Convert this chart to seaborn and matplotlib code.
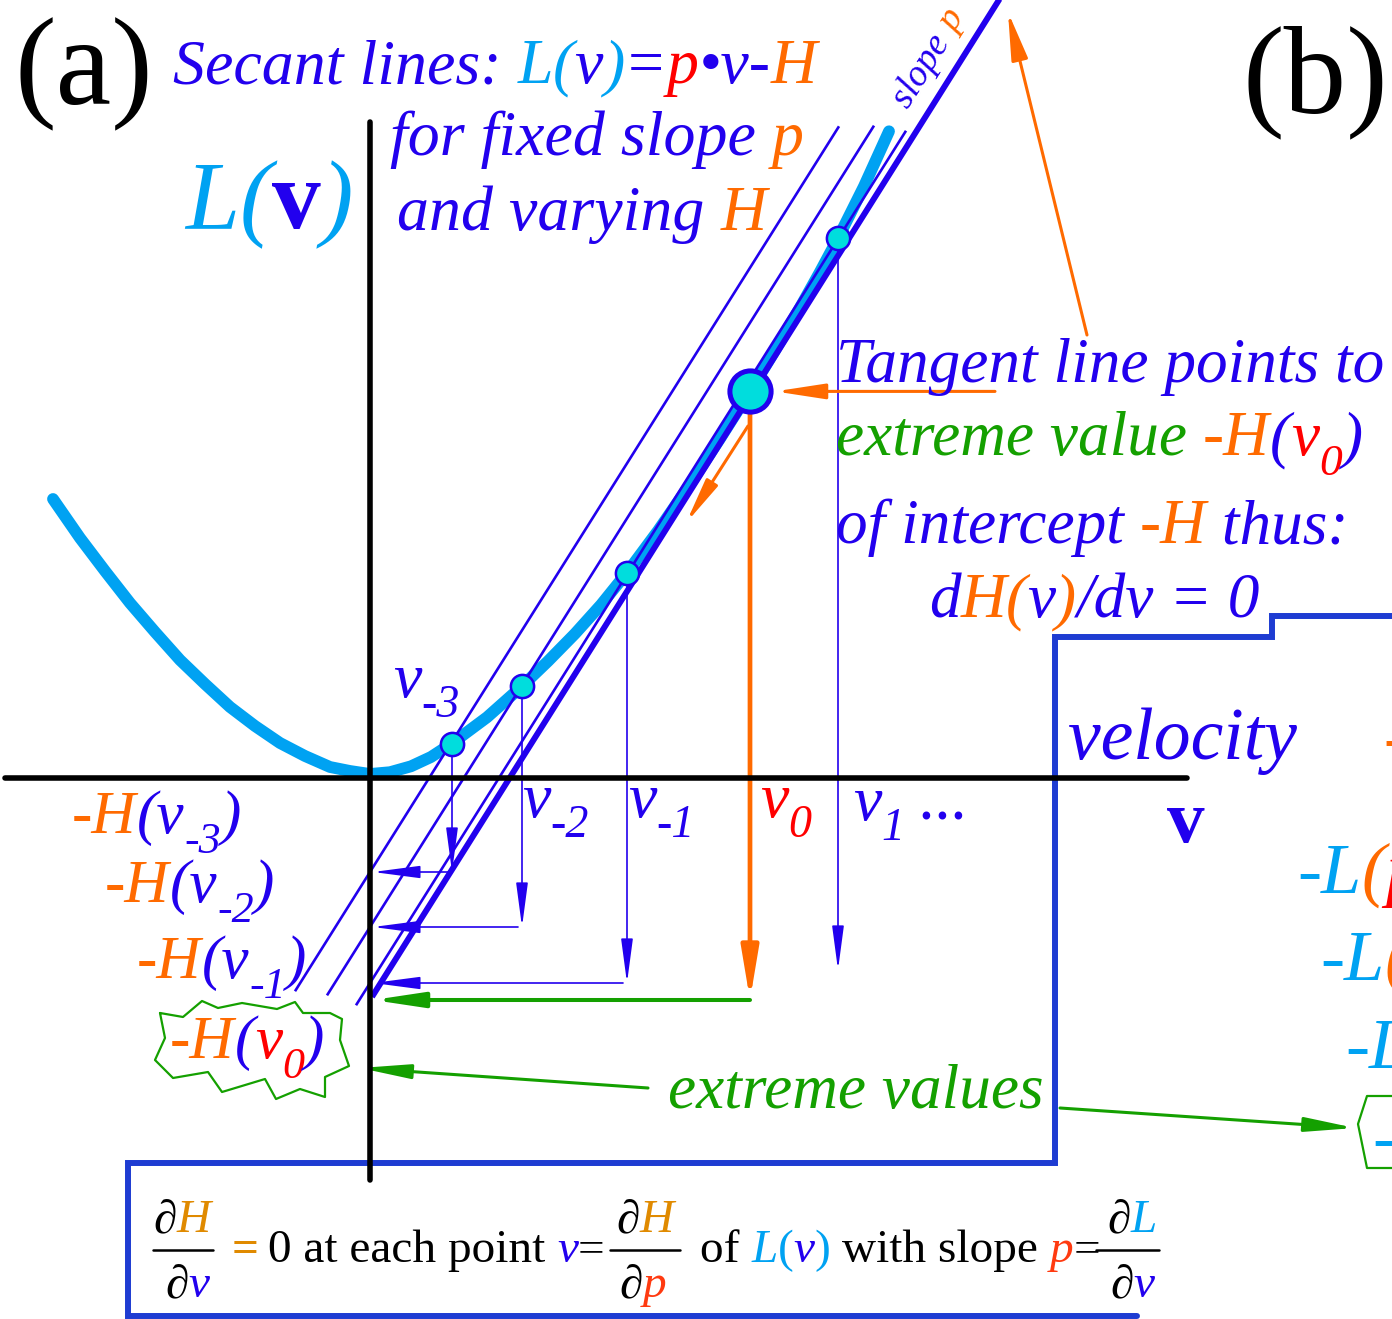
import matplotlib
matplotlib.use('Agg')
import matplotlib.pyplot as plt
import seaborn as sns

sns.set_theme(style='white')
plt.rcParams['font.family'] = ['Liberation Serif', 'DejaVu Serif']

W, H = 1392, 1319
BLUE = '#2200EE'
SKY = '#00A2F2'
ORANGE = '#FF6A00'
RED = '#FF0000'
GREEN = '#14A000'
CYAN = '#00DDDD'
BOX = '#1E3CD2'
HORANGE = '#E08A00'

# L(v) curve (v, L)
curve_v = [-3.17, -2.90, -2.65, -2.40, -2.15, -1.90, -1.65, -1.40, -1.15, -0.90,
           -0.65, -0.40, -0.20, 0.00, 0.20, 0.41, 0.61, 0.82, 1.17, 1.52,
           1.78, 2.05, 2.31, 2.57, 2.88, 3.20, 3.50, 3.80, 4.05, 4.30,
           4.50, 4.68, 4.94, 5.19]
curve_L = [2.79, 2.40, 2.07, 1.75, 1.46, 1.18, 0.94, 0.71, 0.52, 0.35,
           0.22, 0.11, 0.07, 0.04, 0.058, 0.117, 0.21, 0.347, 0.607, 0.918,
           1.168, 1.443, 1.732, 2.054, 2.472, 2.936, 3.394, 3.866, 4.275, 4.703,
           5.061, 5.397, 5.917, 6.467]

# marked points v-3, v-2, v-1, v0, v1
pts_v = [0.82, 1.52, 2.57, 3.80, 4.68]
pts_L = [0.34, 0.92, 2.05, 3.866, 5.40]

# lines of fixed slope p and intercept -H
slope_p = 1.59
neg_H = [-0.94, -1.49, -2.05, -2.22]
line_start = [-0.75, -0.43, -0.14, 0.02]
line_end = [4.69, 5.04, 5.36, 6.40]
drop_end = [-0.94, -1.49, -2.05, -2.22, -1.92]

fig = plt.figure(figsize=(W / 100, H / 100), dpi=100)
ax = fig.add_axes([0, 0, 1, 1])
ax.set_xlim(-3.70, 10.22)
ax.set_ylim(-5.41, 7.78)
ax.axis('off')


def px(x, y):
    # picture pixel -> data units
    return (x - 370) / 100, (778 - y) / 100


def arrow(p0, p1, color, lw, hl, hw, z=4):
    ax.annotate('', xy=p1, xytext=p0, zorder=z,
                arrowprops=dict(arrowstyle='-|>,head_length=%g,head_width=%g' % (hl, hw),
                                color=color, lw=lw, mutation_scale=1,
                                shrinkA=0, shrinkB=0))


# curve
sns.lineplot(x=curve_v, y=curve_L, sort=False, estimator=None, color=SKY,
             lw=8.5, ax=ax, legend=False, zorder=2, solid_joinstyle='round')

# secant lines and tangent
for i in range(4):
    vv = [line_start[i], line_end[i]]
    ax.plot(vv, [slope_p * v + neg_H[i] for v in vv], color=BLUE,
            lw=4.3 if i == 3 else 1.9, zorder=3, solid_capstyle='butt')

# axes
ax.plot([px(5, 0)[0], px(1187, 0)[0]], [0, 0], color='black', lw=4, zorder=5)
ax.plot([0, 0], [px(0, 122)[1], px(0, 1180)[1]], color='black', lw=4, zorder=5)

# drop arrows
for i in range(5):
    if i == 3:
        arrow((pts_v[i], pts_L[i]), (pts_v[i], drop_end[i]), ORANGE, 3.4, 31, 5.2)
    else:
        arrow((pts_v[i], pts_L[i]), (pts_v[i], drop_end[i]), BLUE, 1.2, 27, 3.6)
for i in range(3):
    arrow((pts_v[i] - 0.04, neg_H[i]), (0.03, neg_H[i]), BLUE, 1.2, 29, 3.8, z=6)
arrow((pts_v[3], neg_H[3]), (0.03, neg_H[3]), GREEN, 2.9, 30, 4.5, z=6)

# points
sns.scatterplot(x=pts_v[:3] + pts_v[4:], y=pts_L[:3] + pts_L[4:], s=280, color=CYAN,
                edgecolor=BLUE, linewidth=1.8, ax=ax, zorder=7, legend=False)
sns.scatterplot(x=[pts_v[3]], y=[pts_L[3]], s=880, color=CYAN, edgecolor=BLUE,
                linewidth=3.6, ax=ax, zorder=7, legend=False)

# orange pointers
arrow((6.25, pts_L[3]), (pts_v[3] + 0.25, pts_L[3]), ORANGE, 2.2, 30, 4.6)
arrow(px(748, 426), px(686, 523), ORANGE, 2.2, 27, 4.0)
arrow(px(1087, 335), px(1008, 12), ORANGE, 2.2, 29, 5.0)
# green pointers
arrow(px(648, 1088), px(360, 1068), GREEN, 2.2, 30, 4.3)
arrow(px(1060, 1108), px(1355, 1128), GREEN, 2.2, 30, 4.3)

# outline boxes
box = [(1137, 1316), (128, 1316), (128, 1163), (1055, 1163), (1055, 637),
       (1272, 637), (1272, 616), (1400, 616)]
bx, by = zip(*[px(*p) for p in box])
ax.plot(bx, by, color=BOX, lw=4.3, zorder=4, solid_joinstyle='miter')

star = [(160, 1013), (183, 1017), (202, 1001), (218, 1008), (242, 1003), (277, 1009),
        (295, 1002), (303, 1013), (330, 1013), (342, 1019), (340, 1040), (349, 1066),
        (325, 1077), (325, 1097), (300, 1089), (276, 1099), (265, 1079), (222, 1092),
        (208, 1072), (173, 1078), (155, 1060), (165, 1038), (160, 1013)]
sx, sy = zip(*[px(*p) for p in star])
ax.plot(sx, sy, color=GREEN, lw=1.6, zorder=4)
star2 = [(1400, 1096), (1367, 1096), (1358, 1124), (1367, 1168), (1400, 1168)]
sx, sy = zip(*[px(*p) for p in star2])
ax.plot(sx, sy, color=GREEN, lw=1.6, zorder=4)

# ---------- text ----------
R = fig.canvas.get_renderer()


def adv(s, size, style, weight):
    t = fig.text(0, 0, s + '|', fontsize=size, fontstyle=style, fontweight=weight)
    w1 = t.get_window_extent(R).width
    t.set_text('|')
    w2 = t.get_window_extent(R).width
    t.remove()
    return w1 - w2


def rich(x, y, parts, size, style='italic', weight='normal'):
    for part in parts:
        s, c = part[0], part[1]
        o = part[2] if len(part) > 2 else {}
        sz = size * o.get('scale', 1)
        st = o.get('style', style)
        wt = o.get('weight', weight)
        fig.text(x / W, 1 - (y + o.get('dy', 0)) / H, s, color=c, fontsize=sz,
                 fontstyle=st, fontweight=wt, va='baseline', ha='left')
        x += adv(s, sz, st, wt) + o.get('kern', 0)
    return x


SUB = {'dy': 20, 'scale': 0.72}

fig.text(15 / W, 1 - 104 / H, '(a)', fontsize=90, color='black', va='baseline')
fig.text(1242 / W, 1 - 112 / H, '(b)', fontsize=90, color='black', va='baseline')

rich(173, 83, [('Secant lines: ', BLUE), ('L', SKY), ('(', SKY), ('v', BLUE), (')', SKY),
               ('=', BLUE), ('p', RED), ('\u2022v-', BLUE), ('H', ORANGE)], 46)
rich(390, 155, [('for fixed slope ', BLUE), ('p', ORANGE)], 46)
rich(397, 230, [('and varying ', BLUE), ('H', ORANGE)], 46)
rich(185, 228, [('L', SKY), ('(', SKY), ('v', BLUE, {'style': 'normal', 'weight': 'bold'}),
                (')', SKY)], 70)

# slope p along the tangent
ang = 57.8
x0, y0 = 908, 110
fig.text(x0 / W, 1 - y0 / H, 'slope ', color=BLUE, fontsize=27, fontstyle='italic',
         rotation=ang, rotation_mode='anchor', va='baseline', ha='left')
d = adv('slope ', 27, 'italic', 'normal')
fig.text((x0 + d * 0.533) / W, 1 - (y0 - d * 0.846) / H, 'p', color=ORANGE, fontsize=27,
         fontstyle='italic', rotation=ang, rotation_mode='anchor', va='baseline', ha='left')

TS = 45.5
rich(836, 382, [('Tangent line points to', BLUE)], TS)
rich(836, 455, [('extreme value ', GREEN), ('-H', ORANGE), ('(', BLUE), ('v', RED),
                ('0', RED, SUB), (')', BLUE)], TS)
rich(836, 543, [('of intercept ', BLUE), ('-H', ORANGE), (' thus:', BLUE)], TS)
rich(929, 617, [('d', BLUE), ('H', ORANGE), ('(', ORANGE), ('v', BLUE), (')', ORANGE),
                ('/dv = 0', BLUE)], TS)

rich(1068, 759, [('velocity', BLUE)], 53)
fig.text(1167 / W, 1 - 842 / H, 'v', color=BLUE, fontsize=54, fontweight='bold',
         va='baseline')

# left -H labels
rich(72, 833, [('-H', ORANGE), ('(v', BLUE), ('-3', BLUE, SUB), (')', BLUE)], 44)
rich(105, 902, [('-H', ORANGE), ('(v', BLUE), ('-2', BLUE, SUB), (')', BLUE)], 44)
rich(137, 978, [('-H', ORANGE), ('(v', BLUE), ('-1', BLUE, SUB), (')', BLUE)], 44)
rich(170, 1058, [('-H', ORANGE), ('(', BLUE), ('v', RED), ('0', RED, SUB), (')', BLUE)], 44)

# v labels
rich(393, 697, [('v', BLUE), ('-3', BLUE, SUB)], 46)
rich(522, 817, [('v', BLUE), ('-2', BLUE, SUB)], 46)
rich(628, 817, [('v', BLUE), ('-1', BLUE, SUB)], 46)
rich(760, 817, [('v', RED), ('0', RED, SUB)], 46)
rich(853, 820, [('v', BLUE), ('1', BLUE, SUB), (' ...', BLUE)], 46)

rich(668, 1108, [('extreme values', GREEN)], 45.5)

# right-hand side, cut by the frame as in the original
rich(1383, 760, [('-H', ORANGE)], 50)
rich(1297, 893, [('-L', SKY), ('(', ORANGE), ('p', RED)], 52)
rich(1320, 980, [('-L', SKY), ('(', ORANGE), ('p', RED)], 52)
rich(1345, 1068, [('-L', SKY), ('(', ORANGE)], 52)
rich(1372, 1160, [('-L', SKY)], 52)

# bottom formula
FS = 34


def frac(xn, xd, xa, xb, num, den):
    rich(xn, 1232, num, FS, style='normal')
    rich(xd, 1297, den, FS, style='normal')
    ax.plot([px(xa, 0)[0], px(xb, 0)[0]], [px(0, 1250)[1]] * 2, color='black', lw=1.8)


IT = {'style': 'italic'}
frac(153, 165, 153, 213, [('\u2202', 'black'), ('H', HORANGE, IT)], [('\u2202', 'black'), ('v', BLUE, IT)])
rich(232, 1262, [('=', HORANGE, {'weight': 'bold'})], FS, style='normal')
rich(268, 1262, [('0 at each point ', 'black'), ('v', BLUE, IT), ('=', 'black')], FS, style='normal')
frac(616, 619, 610, 680, [('\u2202', 'black'), ('H', HORANGE, IT)], [('\u2202', 'black'), ('p', '#FF3A10', IT)])
rich(700, 1262, [('of ', 'black'), ('L', SKY, IT), ('(', SKY), ('v', BLUE, IT), (')', SKY),
                 (' with slope ', 'black'), ('p', '#FF3A10', IT), ('=', 'black')], FS, style='normal')
frac(1107, 1110, 1096, 1159, [('\u2202', 'black'), ('L', SKY, IT)], [('\u2202', 'black'), ('v', BLUE, IT)])

fig.savefig('out.png', dpi=100)
